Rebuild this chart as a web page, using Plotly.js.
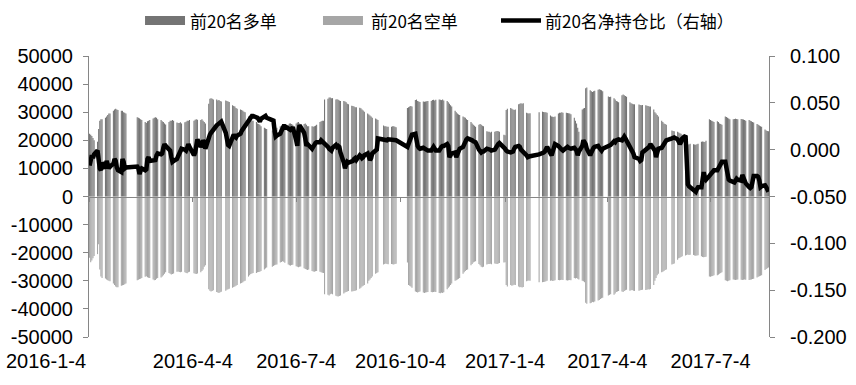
<!DOCTYPE html>
<html><head><meta charset="utf-8">
<script src="https://cdn.plot.ly/plotly-3.0.1.min.js"></script>
<style>html,body{margin:0;padding:0;background:#fff;}#chart{width:856px;height:385px;}</style>
</head><body><div id="chart"></div>
<script>
const seriesNames = ['前20名多单', '前20名空单', '前20名净持仓比（右轴）'];
const firstDay = '2016-01-04';
const lastDay = '2017-08-24';
const holidays = ['2016-02-08','2016-02-09','2016-02-10','2016-02-11','2016-02-12','2016-04-04','2016-05-02',
  '2016-06-09','2016-06-10','2016-09-15','2016-09-16','2016-10-03','2016-10-04','2016-10-05','2016-10-06','2016-10-07',
  '2017-01-02','2017-01-27','2017-01-30','2017-01-31','2017-02-01','2017-02-02','2017-04-03','2017-04-04',
  '2017-05-01','2017-05-29','2017-05-30'];

const longPos = [
22300,22000,21500,20800,20000,
19500,24000,27000,27500,27500,
28000,28500,29000,29500,29500,
30500,31000,31200,31000,30800,
30500,30500,30000,29800,29500,
28200,28000,27800,27500,27200,
26500,26200,26800,27000,27200,
27800,28000,28200,28000,27500,
27200,26800,26500,26000,25600,
26500,27000,27000,27200,27000,
26300,26200,26200,26400,26000,
26400,26600,27000,27000,27200,
27000,27300,27500,27300,
27200,27500,27000,26500,26000,
33000,34800,35000,34800,34500,
34500,34200,34300,34000,33800,
34200,34000,33800,33600,
32500,32200,32000,31500,31200,
31000,30800,30500,30200,30000,
28500,28000,27500,27000,27000,
26500,26000,25800,25500,25000,
24500,24200,24000,
23500,23000,23500,24000,24500,
25000,25200,25500,25300,25000,
25500,26000,26000,25800,25500,
26000,26300,26500,26000,25800,
25800,26000,25500,25000,25000,
25000,24800,25000,25200,25500,
26500,26800,27000,27000,34500,
34800,35200,35200,35000,35000,
34500,34600,34400,34200,34000,
34000,33800,33500,33000,32800,
32300,32200,32000,31800,31800,
31600,31400,31000,30600,30200,
29500,29200,28800,28500,28000,
27800,27500,27200,
25300,25000,25000,24800,24800,
24800,25000,25000,24800,24600,
31500,31800,32000,32200,32000,
34300,34500,34000,33800,33600,
33800,33700,33800,33900,34000,
34000,34300,34400,34200,34400,
34500,34400,34300,34500,34200,
34000,33500,33000,32500,32000,
30500,30000,29500,29200,29000,
28500,28200,28000,27500,27200,
26500,26000,25500,25200,24800,
25500,25800,25500,25200,25000,
23200,23000,23000,22800,23000,
23000,23200,23300,23200,23000,
22000,21800,30800,31200,
31500,31200,31000,30800,31000,
32800,33000,33200,33000,33200,
29800,29600,29500,29600,
30000,
30200,30100,30000,30000,29800,
28800,28500,28400,28300,28500,
29500,29800,29800,30000,29800,
29800,29700,29600,29500,29300,
28000,27000,26000,24500,23000,
31000,31300,31500,38500,38800,
37800,37500,37200,37500,37600,
38000,38200,38000,37800,37500,
35600,35400,35500,
35000,34500,34000,33800,33500,
36000,36300,36000,35800,35500,
33500,33200,33000,32800,32800,
32700,32600,32500,32600,
32500,32300,32200,32000,32000,
31000,30000,29500,29000,28500,
27000,26500,26000,25800,25500,
23500,23300,23200,
23000,22800,22500,22300,22000,
21000,19000,18500,18500,18800,
18600,18500,18400,18600,18800,
19500,19600,19500,19400,19800,
27500,27200,27000,26800,26500,
26800,26500,26000,25800,25500,
28500,28300,28000,27800,27500,
27500,27600,27700,27600,27500,
27600,27500,27400,27200,27000,
27200,27000,26800,26500,26300,
25800,25500,25300,25000,24800,
23800,23500,23300,23200
];

const shortPos = [
-21800,-23400,-22800,-22000,-21200,
-20500,-17000,-26000,-28500,-29000,
-29200,-29500,-29800,-30000,-30200,
-31000,-31500,-32000,-32300,-32300,
-31800,-31600,-31500,-31200,-31000,
-29800,-29600,-29400,-29300,-29000,
-28600,-28400,-28700,-28900,-29000,
-29500,-29800,-29700,-29300,-29000,
-28800,-28500,-28000,-27500,-27000,
-27200,-27500,-27800,-27600,-27400,
-26800,-26700,-26900,-27000,-26800,
-27000,-27200,-27300,-27000,-26800,
-27300,-27500,-27600,-27400,
-27000,-26500,-26000,-25000,-24500,
-33000,-33500,-33800,-33600,-33400,
-34000,-34200,-34300,-34100,-33900,
-33500,-33200,-33000,-32800,
-32500,-32200,-32000,-31800,-31500,
-31000,-30800,-30500,-30200,-30000,
-28500,-28000,-27600,-27400,-27200,
-27200,-27000,-26900,-26800,-26500,
-26000,-25600,-25300,
-25000,-24700,-24500,-24300,-24200,
-23500,-23300,-23000,-23200,-23600,
-24200,-24500,-24600,-24400,-24300,
-24800,-25000,-25200,-25000,-24900,
-25500,-25800,-26000,-26200,-26000,
-26500,-26700,-26800,-26600,-26500,
-26800,-27000,-27100,-27200,-34800,
-35000,-35200,-34800,-34600,-34800,
-35300,-35500,-35600,-35400,-35200,
-34500,-34200,-34000,-33800,-33600,
-33800,-33700,-33600,-33500,-33400,
-32800,-32500,-32000,-31800,-31500,
-31000,-30000,-29500,-29000,-28500,
-27500,-27200,-27000,
-24200,-24000,-23800,-24000,-24100,
-24000,-24100,-24200,-24000,-23900,
-23500,-31500,-31800,-32000,-32500,
-33800,-34000,-34200,-34000,-33800,
-34200,-34300,-34200,-34100,-34000,
-34000,-34100,-34000,-33900,-34000,
-34300,-34400,-34200,-34300,-34100,
-33000,-32500,-32000,-31500,-31000,
-30000,-29800,-29500,-29300,-29000,
-27500,-27000,-26500,-26200,-26000,
-24500,-24000,-23500,-23200,-23000,
-24000,-24500,-25000,-25200,-25000,
-24200,-24000,-24000,-23900,-24100,
-23800,-23900,-24000,-23800,-23700,
-23500,-23400,-31500,-32000,
-31500,-31800,-31600,-31400,-31500,
-32000,-32300,-32200,-32400,-32200,
-30200,-30000,-29900,-30000,
-30500,
-30500,-30400,-30300,-30200,-30000,
-30000,-29900,-30100,-30000,-29800,
-29700,-29800,-29700,-29600,-29700,
-29800,-29900,-29800,-29700,-29800,
-29000,-29200,-29000,-29300,-29500,
-30000,-30200,-30500,-37800,-38200,
-38000,-37800,-37500,-37600,-37400,
-37000,-36800,-36500,-36200,-36000,
-35200,-35000,-34800,
-35000,-34500,-34000,-33800,-33600,
-33800,-34000,-33600,-33400,-33200,
-33500,-33400,-33300,-33500,-33600,
-33500,-33400,-33300,-33200,
-33300,-33200,-33000,-33100,-32900,
-31500,-30000,-29000,-28000,-27500,
-27000,-26800,-26500,-26200,-26000,
-24200,-24000,-23800,
-22500,-22000,-21800,-21500,-21300,
-21000,-20800,-20600,-20800,-20700,
-20800,-21000,-21100,-21000,-20900,
-21300,-21500,-21600,-21500,-21400,
-28500,-28600,-28400,-28300,-28000,
-28000,-27800,-27500,-27200,-27000,
-29800,-30000,-30200,-30000,-29800,
-29500,-29600,-29700,-29600,-29500,
-29600,-29700,-29600,-29500,-29600,
-29700,-29600,-29500,-29400,-29300,
-28800,-28600,-28400,-28200,-28000,
-26200,-25800,-25500,-25300
];

const netRatio = [
-0.017,-0.008,-0.006,-0.009,-0.005,
-0.001,-0.012,-0.020,-0.022,-0.014,
-0.020,-0.012,-0.016,-0.020,-0.018,
-0.015,-0.010,-0.012,-0.019,-0.022,
-0.024,-0.010,-0.013,-0.020,-0.019,
-0.018,-0.020,-0.026,-0.022,-0.020,
-0.022,-0.021,-0.010,-0.008,-0.012,
-0.012,-0.011,-0.011,-0.006,-0.004,
-0.005,-0.004,0.002,0.006,0.004,
0.001,-0.001,-0.008,-0.013,-0.012,
-0.010,-0.007,-0.004,-0.002,0.001,
0.000,-0.001,0.002,0.006,0.003,
-0.006,-0.003,0.005,0.011,
0.003,0.005,0.010,0.008,0.001,
0.015,0.016,0.018,0.020,0.022,
0.026,0.027,0.028,0.029,0.030,
0.018,0.010,0.005,0.004,
0.012,0.016,0.014,0.013,0.015,
0.017,0.020,0.022,0.024,0.026,
0.031,0.033,0.035,0.036,0.036,
0.035,0.034,0.032,0.030,0.033,
0.035,0.036,0.034,
0.031,0.031,0.020,0.014,0.015,
0.017,0.020,0.024,0.025,0.025,
0.023,0.022,0.021,0.022,0.024,
0.010,0.004,0.020,0.026,0.024,
0.018,0.012,0.004,0.006,0.005,
0.001,0.003,0.006,0.007,0.008,
0.008,0.010,0.009,0.007,0.006,
0.003,0.001,0.000,-0.001,0.002,
0.005,0.003,0.004,0.003,-0.003,
-0.014,-0.020,-0.016,-0.013,-0.014,
-0.013,-0.012,-0.010,-0.009,-0.011,
-0.006,-0.007,-0.009,-0.008,-0.006,
-0.004,-0.008,-0.011,-0.009,-0.004,
-0.001,0.000,0.012,
0.011,0.010,0.010,0.010,0.011,
0.011,0.011,0.010,0.010,0.010,
0.003,0.007,0.011,0.014,0.016,
0.017,0.008,0.004,0.002,0.001,
0.002,0.001,0.001,0.000,-0.001,
-0.001,0.002,0.003,0.001,-0.001,
-0.001,0.002,0.003,0.004,0.004,
0.006,0.004,-0.008,-0.006,-0.004,
-0.003,-0.008,-0.005,0.000,0.001,
0.003,0.006,0.011,0.011,0.012,
0.011,0.010,0.009,0.009,0.008,
0.000,-0.003,-0.003,-0.002,-0.002,
0.001,0.001,0.001,0.000,-0.001,
0.000,0.002,0.005,0.006,0.007,
0.003,0.001,-0.001,-0.002,
-0.003,-0.003,-0.002,0.001,0.003,
0.004,0.003,0.000,-0.001,-0.003,
-0.006,-0.008,-0.008,-0.007,
-0.005,
-0.004,-0.003,-0.002,0.001,0.003,
-0.004,-0.006,-0.002,0.005,0.006,
0.004,0.002,0.001,0.000,-0.001,
0.002,0.003,0.002,0.001,0.001,
0.002,0.001,-0.001,-0.006,-0.002,
0.004,0.010,0.008,0.006,0.001,
-0.006,-0.003,0.001,0.002,0.003,
0.004,0.002,0.000,-0.001,0.001,
0.004,0.004,0.005,
0.009,0.008,0.010,0.011,0.011,
0.010,0.012,0.014,0.012,0.010,
0.004,0.001,-0.001,-0.004,-0.008,
-0.010,-0.012,-0.011,-0.003,
0.000,0.001,0.001,0.003,0.006,
0.002,-0.001,-0.008,-0.003,0.001,
0.002,0.004,0.006,0.008,0.010,
0.012,0.013,0.013,
0.011,0.009,0.006,0.008,0.012,
0.015,-0.030,-0.037,-0.039,-0.040,
-0.042,-0.044,-0.045,-0.042,-0.040,
-0.040,-0.030,-0.024,-0.030,-0.032,
-0.028,-0.026,-0.024,-0.023,-0.022,
-0.022,-0.020,-0.016,-0.015,-0.013,
-0.013,-0.020,-0.029,-0.032,-0.033,
-0.034,-0.035,-0.033,-0.031,-0.032,
-0.033,-0.027,-0.030,-0.034,-0.036,
-0.040,-0.041,-0.040,-0.034,-0.028,
-0.028,-0.029,-0.033,-0.040,-0.039,
-0.038,-0.040,-0.043,-0.045
];

const xTickVals = ['2016-01-04','2016-04-04','2016-07-04','2016-10-04','2017-01-04','2017-04-04','2017-07-04'];
const xTickText = ['2016-1-4','2016-4-4','2016-7-4','2016-10-4','2017-1-4','2017-4-4','2017-7-4'];
const yLeftVals = [50000,40000,30000,20000,10000,0,-10000,-20000,-30000,-40000,-50000];
const yLeftText = ['50000','40000','30000','20000','10000','0','-10000','-20000','-30000','-40000','-50000'];
const yRightVals = [0.1,0.05,0,-0.05,-0.1,-0.15,-0.2];
const yRightText = ['0.100','0.050','0.000','-0.050','-0.100','-0.150','-0.200'];

function tradingDates() {
  const hol = new Set(holidays);
  const out = [];
  let t = Date.parse(firstDay + 'T00:00:00Z');
  const end = Date.parse(lastDay + 'T00:00:00Z');
  while (t <= end) {
    const d = new Date(t);
    const wd = d.getUTCDay();
    const s = d.toISOString().slice(0, 10);
    if (wd !== 0 && wd !== 6 && !hol.has(s)) out.push(s);
    t += 86400000;
  }
  return out;
}
const dates = tradingDates();
if (dates.length !== longPos.length || dates.length !== shortPos.length || dates.length !== netRatio.length) {
  console.error('length mismatch', dates.length, longPos.length, shortPos.length, netRatio.length);
}

const axisGray = '#868686';
const longColor = '#747474';
const shortColor = '#a6a6a6';
const tickFont = {family: '"Liberation Sans", Arial, sans-serif', size: 20, color: '#000'};
const legendFont = {family: '"Noto Sans CJK SC", sans-serif', size: 17, color: '#000'};
const xRange = ['2016-01-03 12:00', '2017-08-24 12:00'];

const traces = [
  {type: 'bar', x: dates, y: longPos, name: seriesNames[0], marker: {color: longColor, line: {width: 0}}, showlegend: false, hoverinfo: 'skip'},
  {type: 'bar', x: dates, y: shortPos, name: seriesNames[1], marker: {color: shortColor, line: {width: 0}}, showlegend: false, hoverinfo: 'skip'},
  {type: 'scatter', mode: 'lines', x: dates, y: netRatio, name: seriesNames[2], xaxis: 'x2', yaxis: 'y2', line: {color: '#000', width: 4.5}, showlegend: false, hoverinfo: 'skip'}
];

// legend built from shapes + text (paper coordinates)
const legendY = 1.126;
const shapes = [
  {type: 'rect', xref: 'paper', yref: 'paper', x0: 0.0824, x1: 0.1412, y0: 1.110, y1: 1.142, fillcolor: longColor, line: {width: 0}},
  {type: 'rect', xref: 'paper', yref: 'paper', x0: 0.3441, x1: 0.4029, y0: 1.110, y1: 1.142, fillcolor: shortColor, line: {width: 0}},
  {type: 'line', xref: 'paper', yref: 'paper', x0: 0.6059, x1: 0.6647, y0: legendY, y1: legendY, line: {color: '#000', width: 4.5}}
];

const layout = {
  width: 856, height: 385,
  margin: {l: 89, r: 87, t: 56, b: 48, pad: 0, autoexpand: false},
  paper_bgcolor: '#fff', plot_bgcolor: '#fff',
  barmode: 'relative', bargap: 0.06,
  showlegend: false,
  xaxis: {type: 'date', range: xRange, tickvals: xTickVals.slice(1), ticktext: xTickText.slice(1),
    ticks: '', showline: false, showgrid: false, zeroline: false, tickfont: tickFont, ticklabelstandoff: 10},
  xaxis2: {type: 'date', range: xRange, overlaying: 'x', anchor: 'free', position: 0.5, side: 'bottom',
    showline: true, linecolor: axisGray, linewidth: 1, ticks: 'outside', ticklen: 4, tickcolor: axisGray, tickwidth: 1,
    tickvals: xTickVals, showticklabels: false, showgrid: false, zeroline: false},
  yaxis: {range: [-50000, 50000], tickvals: yLeftVals, ticktext: yLeftText, showline: true, linecolor: axisGray, linewidth: 1,
    ticks: 'outside', ticklen: 5, tickcolor: axisGray, showgrid: false, zeroline: false, tickfont: tickFont, ticklabelstandoff: 6},
  yaxis2: {range: [-0.2, 0.1], overlaying: 'y', side: 'right', anchor: 'x', tickvals: yRightVals, ticktext: yRightText,
    showline: true, linecolor: axisGray, linewidth: 1, ticks: 'outside', ticklen: 5, tickcolor: axisGray,
    showgrid: false, zeroline: false, tickfont: tickFont, ticklabelstandoff: 11},
  shapes: shapes,
  annotations: [
    {xref: 'paper', yref: 'paper', x: 0, y: -0.085, xanchor: 'right', yanchor: 'middle', xshift: -1,
     text: xTickText[0], showarrow: false, font: tickFont},
    {xref: 'paper', yref: 'paper', x: 0.1456, y: legendY, xanchor: 'left', yanchor: 'middle', text: seriesNames[0], showarrow: false, font: legendFont},
    {xref: 'paper', yref: 'paper', x: 0.4118, y: legendY, xanchor: 'left', yanchor: 'middle', text: seriesNames[1], showarrow: false, font: legendFont},
    {xref: 'paper', yref: 'paper', x: 0.6676, y: legendY, xanchor: 'left', yanchor: 'middle', text: seriesNames[2], showarrow: false, font: legendFont}
  ]
};

Plotly.newPlot('chart', traces, layout, {staticPlot: true, displayModeBar: false});
</script>
</body></html>
